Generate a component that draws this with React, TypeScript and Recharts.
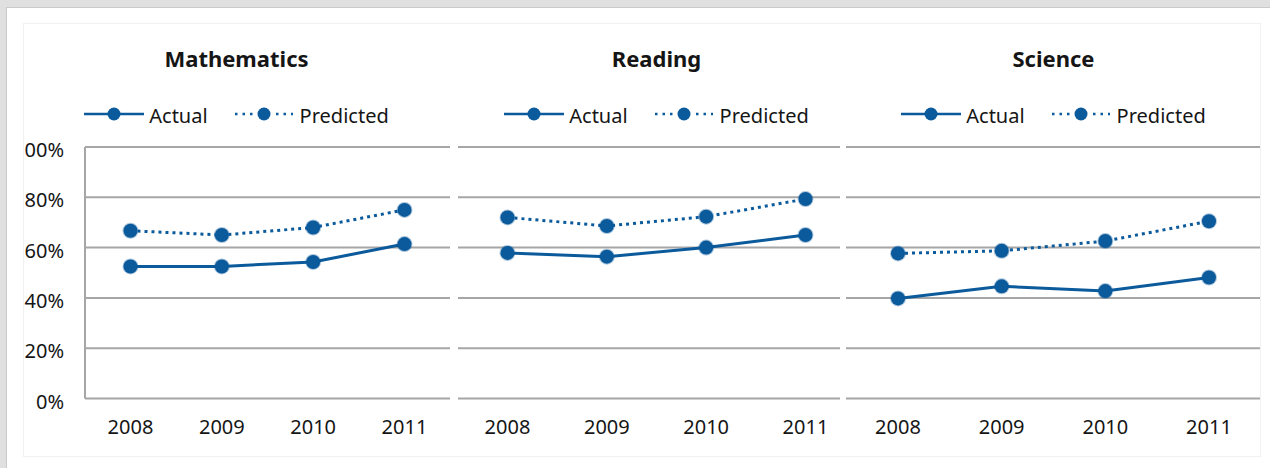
import React from 'react';
import { CartesianGrid, Legend, Line, LineChart, XAxis, YAxis } from 'recharts';

const years = ['2008', '2009', '2010', '2011'];
const yTicks = [0, 20, 40, 60, 80, 100];

const mathActual = [52.5, 52.5, 54.3, 61.4];
const mathPredicted = [66.7, 65, 68, 75];
const readingActual = [57.9, 56.4, 60, 65];
const readingPredicted = [72, 68.6, 72.3, 79.3];
const scienceActual = [39.8, 44.6, 42.7, 48.1];
const sciencePredicted = [57.7, 58.7, 62.6, 70.5];

const BLUE = '#0b5a9b';
const GRID = '#a6a6a6';
const INK = '#151515';
const FONT = '"Noto Sans", sans-serif';

const toRows = (actual: number[], predicted: number[]) =>
  years.map((year, i) => ({ year, actual: actual[i], predicted: predicted[i] }));

const LegendBlock = ({ title }: { title: string }) => (
  <div style={{ position: 'relative', height: 124, fontFamily: FONT, color: INK }}>
    <div
      style={{
        position: 'absolute', top: 19.5, left: 0, right: 0, textAlign: 'center',
        fontSize: 22, fontWeight: 700, lineHeight: '30px'
      }}
    >
      {title}
    </div>
    <div
      style={{
        position: 'absolute', top: 79, left: 0, right: 0, display: 'flex',
        justifyContent: 'center', alignItems: 'flex-start', fontSize: 20, lineHeight: '27px'
      }}
    >
      <svg width={60} height={27}>
        <line x1={0} x2={60} y1={12} y2={12} stroke={BLUE} strokeWidth={2.5} />
        <circle cx={30} cy={12} r={6.5} fill={BLUE} />
      </svg>
      <span style={{ marginLeft: 5 }}>Actual</span>
      <svg width={58} height={27} style={{ marginLeft: 27 }}>
        <line x1={0} x2={18} y1={12} y2={12} stroke={BLUE} strokeWidth={2.5} strokeDasharray="2.5 5" />
        <line x1={41} x2={58} y1={12} y2={12} stroke={BLUE} strokeWidth={2.5} strokeDasharray="2.5 5" />
        <circle cx={29} cy={12} r={6.5} fill={BLUE} />
      </svg>
      <span style={{ marginLeft: 7 }}>Predicted</span>
    </div>
  </div>
);

const XTick = ({ x, y, payload }: any) => (
  <text x={x} y={y + 35.5} textAnchor="middle" fontSize={20} fontFamily={FONT} fill={INK}>
    {payload.value}
  </text>
);

const YTick = ({ x, y, payload }: any) => (
  <text x={x - 21} y={y + 10} textAnchor="end" fontSize={20} fontFamily={FONT} fill={INK}>
    {payload.value}%
  </text>
);

const NoTick = () => <g />;

interface PanelProps {
  title: string;
  actual: number[];
  predicted: number[];
  left: number;
  width: number;
  marginLeft: number;
  marginRight: number;
  padX: number;
  showAxis?: boolean;
}

const Panel = ({ title, actual, predicted, left, width, marginLeft, marginRight, padX, showAxis }: PanelProps) => (
  <div style={{ position: 'absolute', left, top: 23, width, height: 432, overflow: 'hidden', background: '#fff' }}>
    <LineChart
      width={width}
      height={432}
      data={toRows(actual, predicted)}
      margin={{ top: 0, right: marginRight, left: marginLeft, bottom: 16.5 }}
    >
      <CartesianGrid horizontal vertical={false} stroke={GRID} strokeWidth={2} />
      <XAxis
        dataKey="year"
        height={40}
        axisLine={false}
        tickLine={false}
        tickSize={0}
        tickMargin={0}
        padding={{ left: padX, right: padX }}
        tick={<XTick />}
      />
      <YAxis
        domain={[0, 100]}
        ticks={yTicks}
        width={showAxis ? 62 : 0}
        axisLine={showAxis ? { stroke: GRID, strokeWidth: 2 } : false}
        tickLine={false}
        tickSize={0}
        tickMargin={0}
        tick={showAxis ? <YTick /> : <NoTick />}
      />
      <Legend verticalAlign="top" align="center" content={() => <LegendBlock title={title} />} />
      <Line
        type="linear"
        dataKey="actual"
        stroke={BLUE}
        strokeWidth={3}
        dot={{ r: 7, fill: BLUE, stroke: BLUE, strokeWidth: 2, strokeOpacity: 0.35 }}
        activeDot={false}
        isAnimationActive={false}
      />
      <Line
        type="linear"
        dataKey="predicted"
        stroke={BLUE}
        strokeWidth={3}
        strokeDasharray="3 4"
        dot={{ r: 7, fill: BLUE, stroke: BLUE, strokeWidth: 2, strokeOpacity: 0.35, strokeDasharray: '' }}
        activeDot={false}
        isAnimationActive={false}
      />
    </LineChart>
  </div>
);

export default function App() {
  return (
    <div style={{ position: 'absolute', left: 0, top: 0, width: 1270, height: 468, background: '#e0e0e0', overflow: 'hidden' }}>
      <div
        style={{
          position: 'absolute', left: 6, top: 7, right: 0, bottom: 0, background: '#fff',
          borderLeft: '1px solid #cacaca', borderTop: '1px solid #cacaca'
        }}
      />
      <Panel title="Mathematics" actual={mathActual} predicted={mathPredicted}
        left={23} width={427} marginLeft={0} marginRight={0} padX={45.5} showAxis />
      <Panel title="Reading" actual={readingActual} predicted={readingPredicted}
        left={458} width={397} marginLeft={0} marginRight={0} padX={49.5} />
      <Panel title="Science" actual={scienceActual} predicted={sciencePredicted}
        left={840} width={422} marginLeft={6} marginRight={1} padX={52} />
      <div
        style={{
          position: 'absolute', left: 23, top: 23, width: 1236, height: 432,
          border: '1px solid #f1f1f1', pointerEvents: 'none'
        }}
      />
    </div>
  );
}
